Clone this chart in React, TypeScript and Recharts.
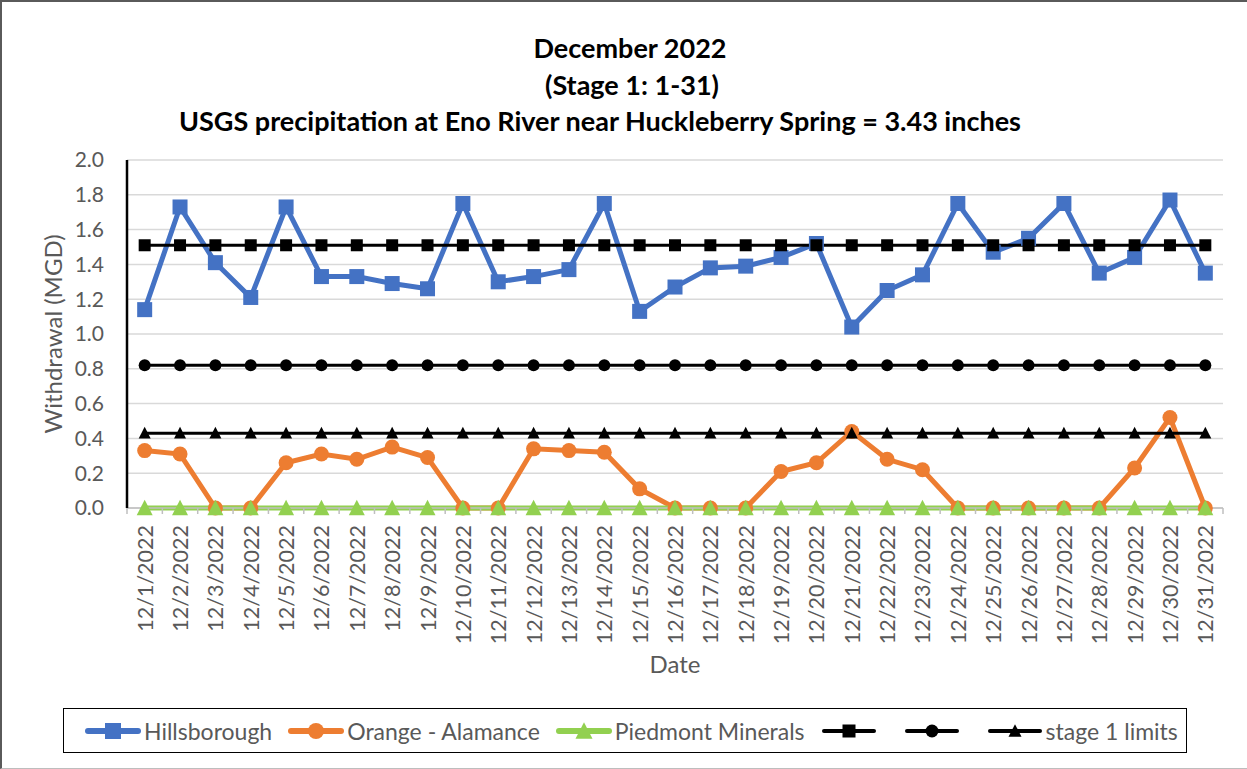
import React from 'react';
import { LineChart, Line, XAxis, YAxis, CartesianGrid, Legend } from 'recharts';

const DATES = [
  '12/1/2022', '12/2/2022', '12/3/2022', '12/4/2022', '12/5/2022', '12/6/2022', '12/7/2022',
  '12/8/2022', '12/9/2022', '12/10/2022', '12/11/2022', '12/12/2022', '12/13/2022', '12/14/2022',
  '12/15/2022', '12/16/2022', '12/17/2022', '12/18/2022', '12/19/2022', '12/20/2022', '12/21/2022',
  '12/22/2022', '12/23/2022', '12/24/2022', '12/25/2022', '12/26/2022', '12/27/2022', '12/28/2022',
  '12/29/2022', '12/30/2022', '12/31/2022',
];

const HILLSBOROUGH = [
  1.14, 1.73, 1.41, 1.21, 1.73, 1.33, 1.33, 1.29, 1.26, 1.75, 1.3, 1.33, 1.37, 1.75, 1.13, 1.27,
  1.38, 1.39, 1.44, 1.52, 1.04, 1.25, 1.34, 1.75, 1.47, 1.55, 1.75, 1.35, 1.44, 1.77, 1.35,
];

const ORANGE_ALAMANCE = [
  0.33, 0.31, 0, 0, 0.26, 0.31, 0.28, 0.35, 0.29, 0, 0, 0.34, 0.33, 0.32, 0.11, 0,
  0, 0, 0.21, 0.26, 0.44, 0.28, 0.22, 0, 0, 0, 0, 0, 0.23, 0.52, 0,
];

const PIEDMONT_MINERALS = [
  0, 0, 0, 0, 0, 0, 0, 0, 0, 0, 0, 0, 0, 0, 0, 0,
  0, 0, 0, 0, 0, 0, 0, 0, 0, 0, 0, 0, 0, 0, 0,
];

// horizontal reference levels
const LIMIT_SQUARE = 1.51;
const LIMIT_CIRCLE = 0.82;
const STAGE1_LIMIT = 0.43;

const Y_TICKS = [0, 0.2, 0.4, 0.6, 0.8, 1.0, 1.2, 1.4, 1.6, 1.8, 2.0];

const data = DATES.map((date, i) => ({
  date,
  hillsborough: HILLSBOROUGH[i],
  orange: ORANGE_ALAMANCE[i],
  piedmont: PIEDMONT_MINERALS[i],
  limitSquare: LIMIT_SQUARE,
  limitCircle: LIMIT_CIRCLE,
  stage1: STAGE1_LIMIT,
}));

const FONT = 'Lato, "Open Sans", sans-serif';
const GRAY_TEXT = '#595959';
const BLUE = '#4472C4';
const ORANGE = '#ED7D31';
const GREEN = '#92D050';

const W = 1247;
const H = 769;
const PLOT_LEFT = 127;
const PLOT_RIGHT = 1223;
const STEP = (PLOT_RIGHT - PLOT_LEFT) / DATES.length;

type Shape = 'square' | 'circle' | 'triangle';

const marker = (shape: Shape, size: number, color: string, cx: number, cy: number, key?: string) => {
  if (shape === 'square') {
    return <rect key={key} x={cx - size / 2} y={cy - size / 2} width={size} height={size} fill={color} />;
  }
  if (shape === 'circle') {
    return <circle key={key} cx={cx} cy={cy} r={size / 2} fill={color} />;
  }
  const h = size * 0.9;
  return (
    <path
      key={key}
      d={`M${cx},${cy - h / 2 - 1} L${cx + size / 2},${cy + h / 2} L${cx - size / 2},${cy + h / 2} Z`}
      fill={color}
    />
  );
};

const dotFor = (shape: Shape, size: number, color: string) => (props: any) => {
  const { cx, cy, index } = props;
  if (cx == null || cy == null) return <g key={`d-${index}`} />;
  return marker(shape, size, color, cx, cy, `d-${index}`);
};

const SERIES = [
  { key: 'hillsborough', name: 'Hillsborough', color: BLUE, width: 5, shape: 'square' as Shape, size: 15 },
  { key: 'orange', name: 'Orange - Alamance', color: ORANGE, width: 5, shape: 'circle' as Shape, size: 15 },
  { key: 'piedmont', name: 'Piedmont Minerals', color: GREEN, width: 5, shape: 'triangle' as Shape, size: 16 },
  { key: 'limitSquare', name: '', color: '#000000', width: 3, shape: 'square' as Shape, size: 12 },
  { key: 'limitCircle', name: '', color: '#000000', width: 3, shape: 'circle' as Shape, size: 12 },
  { key: 'stage1', name: 'stage 1 limits', color: '#000000', width: 3, shape: 'triangle' as Shape, size: 12 },
];

const DateTick = (props: any) => {
  const { x, y, payload, index } = props;
  return (
    <g>
      {index === 0 && (
        <line x1={x - STEP / 2} x2={x - STEP / 2} y1={y - 8} y2={y - 2} stroke="#bfbfbf" strokeWidth={1.5} />
      )}
      <line x1={x + STEP / 2} x2={x + STEP / 2} y1={y - 8} y2={y - 2} stroke="#bfbfbf" strokeWidth={1.5} />
      <text
        transform={`translate(${x},${y + 9}) rotate(-90)`}
        textAnchor="end"
        dominantBaseline="central"
        fill={GRAY_TEXT}
        fontSize={21.5}
        fontFamily={FONT}
      >
        {payload.value}
      </text>
    </g>
  );
};

const renderLegend = () => (
  <div
    style={{
      boxSizing: 'border-box',
      height: 45,
      border: '1px solid #000',
      display: 'flex',
      alignItems: 'center',
      paddingLeft: 21,
      fontFamily: FONT,
      fontSize: 23,
      color: GRAY_TEXT,
    }}
  >
    {SERIES.map((s) => (
      <div key={s.key} style={{ display: 'flex', alignItems: 'center', marginRight: s.name ? 16 : 27 }}>
        <svg width={56} height={20}>
          <line x1={3} x2={53} y1={10} y2={10} stroke={s.color} strokeWidth={s.width + 1} strokeLinecap="round" />
          {marker(s.shape, s.size + 1, s.color, 28, 10)}
        </svg>
        {s.name && <span style={{ marginLeft: 3, whiteSpace: 'nowrap' }}>{s.name}</span>}
      </div>
    ))}
  </div>
);

const titleStyle = (centerX: number, centerY: number): React.CSSProperties => ({
  position: 'absolute',
  left: centerX - 550,
  width: 1100,
  top: centerY - 17,
  height: 34,
  lineHeight: '34px',
  textAlign: 'center',
  fontFamily: FONT,
  fontWeight: 700,
  fontSize: 27,
  color: '#000',
  whiteSpace: 'nowrap',
});

export default function App() {
  return (
    <div style={{ position: 'absolute', left: 0, top: 0, width: W, height: H, background: '#fff', overflow: 'hidden' }}>
      <div style={titleStyle(630, 48)}>December 2022</div>
      <div style={titleStyle(632, 85)}>(Stage 1: 1-31)</div>
      <div style={titleStyle(600, 121)}>USGS precipitation at Eno River near Huckleberry Spring = 3.43 inches</div>

      <div style={{ position: 'absolute', left: 0, top: 0 }}>
        <LineChart width={W} height={H} data={data} margin={{ top: 160, right: 24, bottom: 16, left: 0 }}>
          <CartesianGrid vertical={false} stroke="#d9d9d9" strokeWidth={1.5} />
          <XAxis
            dataKey="date"
            interval={0}
            height={200}
            padding={{ left: STEP / 2, right: STEP / 2 }}
            axisLine={{ stroke: '#bfbfbf', strokeWidth: 1.5 }}
            tickLine={false}
            tick={<DateTick />}
            label={({ viewBox }: any) => (
              <text
                x={viewBox.x + viewBox.width / 2}
                y={viewBox.y + 155}
                textAnchor="middle"
                dominantBaseline="central"
                fill={GRAY_TEXT}
                fontSize={24}
                fontFamily={FONT}
              >
                Date
              </text>
            )}
          />
          <XAxis xAxisId="frame" dataKey="date" orientation="top" height={0} tick={false} tickLine={false} axisLine={{ stroke: '#000', strokeWidth: 2.5 }} />
          <YAxis
            domain={[0, 2]}
            ticks={Y_TICKS}
            interval={0}
            width={127}
            tickLine={false}
            tickSize={0}
            tickMargin={23}
            axisLine={{ stroke: '#000', strokeWidth: 2.5 }}
            tickFormatter={(v: number) => v.toFixed(1)}
            tick={{ fill: GRAY_TEXT, fontSize: 21, fontFamily: FONT }}
            label={({ viewBox }: any) => (
              <text
                transform={`translate(52,${viewBox.y + viewBox.height / 2}) rotate(-90)`}
                textAnchor="middle"
                dominantBaseline="central"
                fill={GRAY_TEXT}
                fontSize={24}
                fontFamily={FONT}
              >
                Withdrawal (MGD)
              </text>
            )}
          />
          <YAxis yAxisId="frame" orientation="right" domain={[0, 2]} width={0} tick={false} tickLine={false} axisLine={{ stroke: '#000', strokeWidth: 2.5 }} />
          <Legend verticalAlign="bottom" content={renderLegend} wrapperStyle={{ left: 63, width: 1124 }} />
          {SERIES.map((s) => (
            <Line
              key={s.key}
              type="linear"
              dataKey={s.key}
              name={s.name || s.key}
              stroke={s.color}
              strokeWidth={s.width}
              dot={dotFor(s.shape, s.size, s.color)}
              activeDot={false}
              isAnimationActive={false}
            />
          ))}
        </LineChart>
      </div>

      <div
        style={{
          position: 'absolute',
          left: 0,
          top: 0,
          width: W,
          height: H,
          boxSizing: 'border-box',
          borderLeft: '2px solid #5a5a5a',
          borderTop: '2px solid #5a5a5a',
          borderBottom: '1px solid #bdbdbd',
          pointerEvents: 'none',
        }}
      />
    </div>
  );
}
